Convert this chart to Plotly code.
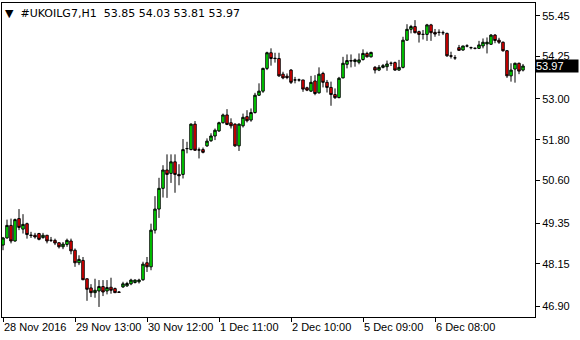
import plotly.graph_objects as go

# ---------------- data ----------------
opens = [48.70, 48.91, 49.28, 48.82, 49.48, 49.17, 49.33, 48.98, 48.99, 49.04,
         48.92, 48.99, 48.84, 48.84, 48.77, 48.65, 48.72, 48.82, 48.55, 48.18,
         48.25, 47.71, 47.44, 47.30, 47.35, 47.48, 47.35, 47.46, 47.42, 47.32,
         47.47, 47.50, 47.56, 47.60, 47.62, 47.68, 48.18, 48.06, 49.14, 49.76,
         50.37, 50.91, 50.81, 51.15, 50.78, 50.78, 51.54, 51.51, 52.26, 51.50,
         51.51, 51.62, 51.77, 51.91, 52.06, 52.30, 52.53, 52.30, 52.26, 51.62,
         52.21, 52.48, 52.38, 52.60, 53.11, 53.23, 53.90, 54.36, 54.20, 54.19,
         53.73, 53.67, 53.85, 53.56, 53.56, 53.56, 53.33, 53.23, 53.53, 53.18,
         53.75, 53.49, 53.34, 53.13, 53.04, 53.62, 54.02, 54.13, 54.10, 54.08,
         54.16, 54.34, 54.24, 53.93, 53.85, 53.93, 53.95, 54.05, 54.07, 53.85,
         53.93, 54.73, 55.05, 55.13, 54.98, 54.90, 54.90, 55.18, 54.96, 54.96,
         54.95, 54.93, 54.27, 54.21, 54.51, 54.44, 54.56, 54.51, 54.49, 54.49,
         54.56, 54.62, 54.61, 54.88, 54.73, 54.67, 54.42, 53.68, 53.88, 54.05,
         53.85]
highs = [48.94, 49.45, 49.48, 49.48, 49.76, 49.61, 49.36, 49.09, 49.06, 49.06,
         49.06, 48.99, 48.94, 48.89, 48.77, 48.79, 48.89, 48.89, 48.60, 48.40,
         48.35, 47.71, 47.55, 47.71, 47.67, 47.67, 47.67, 47.74, 47.45, 47.34,
         47.62, 47.62, 47.71, 47.69, 47.71, 48.21, 48.35, 49.33, 50.14, 50.68,
         51.05, 51.37, 51.37, 51.37, 51.08, 51.82, 51.74, 52.28, 52.35, 51.57,
         51.57, 51.84, 51.99, 52.13, 52.33, 52.57, 52.70, 52.43, 52.28, 52.28,
         52.57, 52.67, 52.72, 53.18, 53.46, 53.92, 54.39, 54.49, 54.36, 54.36,
         53.80, 53.75, 53.88, 53.65, 53.60, 53.56, 53.36, 53.68, 53.70, 53.93,
         53.80, 53.56, 53.51, 53.31, 53.65, 54.24, 54.31, 54.31, 54.19, 54.34,
         54.46, 54.39, 54.39, 53.97, 54.00, 54.03, 54.13, 54.10, 54.10, 54.15,
         54.83, 55.20, 55.18, 55.32, 55.01, 55.03, 55.21, 55.21, 55.06, 55.05,
         55.01, 54.95, 54.39, 54.29, 54.59, 54.56, 54.61, 54.54, 54.51, 54.71,
         54.78, 54.81, 54.91, 54.91, 54.80, 54.69, 54.44, 54.05, 54.07, 54.07,
         54.03]
lows = [48.55, 48.89, 48.75, 48.80, 49.14, 49.04, 48.89, 48.91, 48.89, 48.84,
        48.89, 48.75, 48.79, 48.70, 48.60, 48.58, 48.65, 48.43, 48.06, 48.11,
        47.67, 47.06, 47.17, 47.15, 46.88, 47.20, 47.25, 47.27, 47.29, 47.30,
        47.44, 47.47, 47.52, 47.57, 47.57, 47.65, 47.91, 47.96, 49.04, 49.50,
        50.10, 50.09, 50.53, 50.24, 50.46, 50.66, 51.40, 51.49, 51.47, 51.25,
        51.40, 51.59, 51.74, 51.79, 52.03, 52.28, 52.23, 52.13, 51.59, 51.47,
        52.16, 52.31, 52.33, 52.57, 53.09, 53.18, 53.85, 53.98, 54.07, 53.65,
        53.58, 53.58, 53.44, 53.46, 53.51, 53.21, 53.23, 53.21, 53.11, 53.16,
        53.34, 53.19, 52.80, 53.00, 53.02, 53.61, 53.90, 53.93, 53.95, 54.02,
        54.13, 54.22, 54.22, 53.75, 53.82, 53.90, 53.83, 53.97, 53.83, 53.83,
        53.90, 54.71, 54.93, 54.93, 54.66, 54.75, 54.71, 54.71, 54.83, 54.86,
        54.88, 54.24, 54.19, 54.15, 54.42, 54.42, 54.52, 54.46, 54.46, 54.47,
        54.49, 54.34, 54.59, 54.64, 54.62, 54.39, 53.62, 53.51, 53.48, 53.73,
        53.81]
closes = [48.91, 49.28, 48.82, 49.45, 49.22, 49.31, 49.01, 48.99, 48.94, 48.87,
          48.99, 48.82, 48.84, 48.76, 48.65, 48.73, 48.84, 48.53, 48.18, 48.28,
          47.68, 47.40, 47.30, 47.37, 47.48, 47.32, 47.45, 47.37, 47.30, 47.31,
          47.56, 47.57, 47.67, 47.67, 47.67, 48.14, 48.06, 49.14, 49.76, 50.37,
          50.91, 50.78, 51.15, 50.78, 50.74, 51.51, 51.54, 52.26, 51.49, 51.50,
          51.43, 51.76, 51.91, 52.08, 52.30, 52.53, 52.25, 52.21, 51.62, 52.26,
          52.46, 52.36, 52.60, 53.11, 53.23, 53.90, 54.36, 54.19, 54.19, 53.68,
          53.62, 53.63, 53.49, 53.56, 53.56, 53.29, 53.26, 53.49, 53.16, 53.73,
          53.49, 53.34, 53.13, 53.04, 53.61, 54.05, 54.13, 54.12, 54.15, 54.15,
          54.34, 54.24, 54.37, 53.85, 53.93, 53.98, 54.03, 54.05, 53.85, 53.93,
          54.73, 55.05, 55.13, 54.95, 54.90, 54.90, 55.18, 54.95, 54.91, 54.96,
          54.95, 54.27, 54.26, 54.21, 54.43, 54.56, 54.56, 54.51, 54.49, 54.59,
          54.67, 54.67, 54.88, 54.72, 54.67, 54.42, 53.68, 53.85, 54.05, 53.82,
          53.97]

x_tick_idx = [0, 18, 36, 54, 72, 90, 108]
x_tick_labels = ["28 Nov 2016", "29 Nov 13:00", "30 Nov 12:00", "1 Dec 11:00",
                 "2 Dec 10:00", "5 Dec 09:00", "6 Dec 08:00"]
y_tick_vals = [55.45, 54.25, 53.00, 51.80, 50.60, 49.35, 48.15, 46.90]
y_tick_labels = ["55.45", "54.25", "53.00", "51.80", "50.60", "49.35", "48.15", "46.90"]

symbol = "#UKOILG7,H1"

# ---------------- figure ----------------
xs = list(range(len(closes)))

fig = go.Figure()
fig.add_trace(go.Candlestick(
    x=xs, open=opens, high=highs, low=lows, close=closes,
    increasing=dict(fillcolor="#00ff00", line=dict(color="#000000", width=1)),
    decreasing=dict(fillcolor="#ff0000", line=dict(color="#000000", width=1)),
    whiskerwidth=0, showlegend=False, hoverinfo="skip",
))

tick_font = dict(family="Liberation Sans, Arial, sans-serif", size=11, color="#000000")

fig.update_layout(
    width=580, height=340,
    margin=dict(l=2, r=45, t=3, b=23),
    paper_bgcolor="#ffffff", plot_bgcolor="#ffffff",
    showlegend=False,
    boxgap=0.12,
    xaxis=dict(
        range=[-0.25, 133.0], rangeslider=dict(visible=False),
        showgrid=False, zeroline=False, automargin=False,
        showline=True, linecolor="#000000", linewidth=1, mirror=True,
        tickmode="array", tickvals=x_tick_idx, ticktext=x_tick_labels,
        ticks="outside", ticklen=4, tickcolor="#000000",
        ticklabelposition="outside right", tickangle=0,
        tickfont=tick_font,
    ),
    yaxis=dict(
        side="right", range=[46.584, 55.824],
        showgrid=False, zeroline=False, automargin=False,
        showline=True, linecolor="#000000", linewidth=1, mirror=True,
        tickmode="array", tickvals=y_tick_vals, ticktext=y_tick_labels,
        ticks="outside", ticklen=4, tickcolor="#000000",
        tickfont=tick_font,
    ),
)

header = "▼  {}  {:.2f} {:.2f} {:.2f} {:.2f}".format(
    symbol, opens[-1], highs[-1], lows[-1], closes[-1])
fig.add_annotation(
    x=0, y=1, xref="paper", yref="paper", xanchor="left", yanchor="top",
    xshift=1, yshift=-2, text=header, showarrow=False,
    font=dict(family="DejaVu Sans, sans-serif", size=11, color="#000000"),
)

fig.add_annotation(
    x=1, y=closes[-1], xref="paper", yref="y", xanchor="left", yanchor="middle",
    text="{:.2f}".format(closes[-1]), showarrow=False,
    bgcolor="#000000", width=42, align="left", borderpad=0,
    font=dict(family="Liberation Sans, Arial, sans-serif", size=11, color="#ffffff"),
)

fig.write_html("out.html")
